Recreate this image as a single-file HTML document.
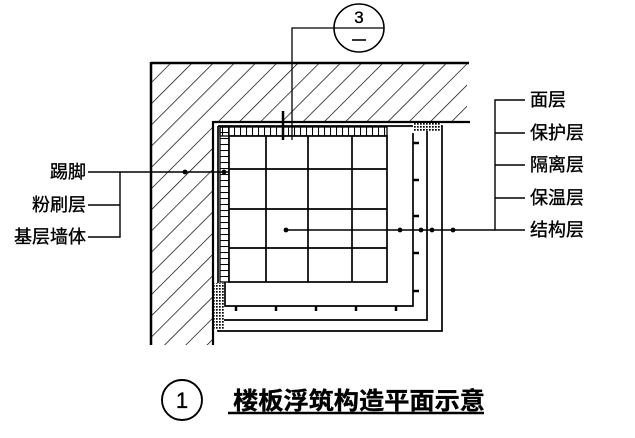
<!DOCTYPE html>
<html><head><meta charset="utf-8"><style>
html,body{margin:0;padding:0;background:#fff;}
svg{display:block;}
text{font-family:"Liberation Sans","Noto Sans CJK SC",sans-serif;fill:#000;stroke:#000;stroke-width:0.35;}
</style></head><body>
<svg width="635" height="438" viewBox="0 0 635 438" xmlns="http://www.w3.org/2000/svg">
<defs>
<pattern id="h" patternUnits="userSpaceOnUse" width="15" height="15" patternTransform="rotate(45)">
<line x1="0" y1="0" x2="0" y2="15" stroke="#000" stroke-width="1.4"/>
</pattern>
<pattern id="d" patternUnits="userSpaceOnUse" width="3" height="3">
<rect width="3" height="3" fill="#fff"/><rect width="1.7" height="1.7" fill="#000"/>
</pattern>
<pattern id="v" patternUnits="userSpaceOnUse" width="6" height="10" x="0">
<line x1="0.5" y1="0" x2="0.5" y2="10" stroke="#000" stroke-width="1.1"/>
</pattern>
<pattern id="hz" patternUnits="userSpaceOnUse" width="10" height="6">
<line x1="0" y1="0.5" x2="10" y2="0.5" stroke="#000" stroke-width="1.1"/>
</pattern>
</defs>
<!-- wall -->
<polygon points="151,63 467,63 467,122 213,122 213,345 151,345" fill="url(#h)"/>
<line x1="151" y1="63" x2="469" y2="63" stroke="#000" stroke-width="2.5"/>
<line x1="151" y1="62" x2="151" y2="345" stroke="#000" stroke-width="2.5"/>
<line x1="213" y1="122" x2="470" y2="122" stroke="#000" stroke-width="2.2"/>
<line x1="213" y1="121" x2="213" y2="345" stroke="#000" stroke-width="2.2"/>
<!-- outer box -->
<polyline points="218,126 442,126 442,331 218,331 218,126" fill="none" stroke="#000" stroke-width="1.7"/>
<!-- dotted pieces -->
<rect x="413" y="123" width="28" height="8" fill="url(#d)"/>
<rect x="387" y="127" width="26" height="4" fill="url(#hz)"/>
<rect x="214" y="283" width="10" height="47" fill="url(#d)"/>
<!-- skirting -->
<rect x="220" y="127" width="167" height="9" fill="url(#v)" stroke="#000" stroke-width="1.3"/>
<rect x="220" y="127" width="9" height="155" fill="url(#hz)" stroke="#000" stroke-width="1.3"/>
<!-- tiles -->
<rect x="229" y="136" width="158" height="146" fill="#fff" stroke="#000" stroke-width="1.7"/>
<g stroke="#000" stroke-width="1.7">
<line x1="266" y1="136" x2="266" y2="282"/><line x1="308" y1="136" x2="308" y2="282"/><line x1="352" y1="136" x2="352" y2="282"/>
<line x1="229" y1="169" x2="387" y2="169"/><line x1="229" y1="209" x2="387" y2="209"/><line x1="229" y1="248" x2="387" y2="248"/>
</g>
<!-- L layers -->
<g fill="none" stroke="#000" stroke-width="1.7">
<polyline points="225,282 225,306 413,306 413,133"/>
<polyline points="224,320 427,320 427,131"/>
</g>
<g stroke="#000" stroke-width="2.5">
<line x1="413" y1="143" x2="419" y2="143"/><line x1="413" y1="180" x2="419" y2="180"/><line x1="413" y1="216" x2="419" y2="216"/><line x1="413" y1="253" x2="419" y2="253"/><line x1="413" y1="291" x2="419" y2="291"/>
<line x1="236" y1="306" x2="236" y2="311"/><line x1="276" y1="306" x2="276" y2="311"/><line x1="316" y1="306" x2="316" y2="311"/><line x1="356" y1="306" x2="356" y2="311"/><line x1="396" y1="306" x2="396" y2="311"/>
</g>
<!-- section mark -->
<line x1="283" y1="111" x2="283" y2="140" stroke="#000" stroke-width="2.5"/>
<polyline points="292,140 292,28 334,28" fill="none" stroke="#000" stroke-width="1.3"/>
<ellipse cx="359" cy="28" rx="25" ry="24" fill="#fff" stroke="#000" stroke-width="1.6"/>
<line x1="334" y1="28" x2="384" y2="28" stroke="#000" stroke-width="1.3"/>
<text x="359" y="23" font-size="17" text-anchor="middle">3</text>
<line x1="352" y1="40" x2="366" y2="40" stroke="#000" stroke-width="1.6"/>
<!-- leaders -->
<g stroke="#000" stroke-width="1.4" fill="none">
<line x1="88" y1="172" x2="229" y2="172"/>
<polyline points="88,205 120,205"/>
<polyline points="120,172 120,237 88,237"/>
<line x1="286" y1="230" x2="495" y2="230"/>
<polyline points="525,100 495,100 495,230 525,230"/>
<line x1="495" y1="133" x2="525" y2="133"/><line x1="495" y1="165" x2="525" y2="165"/><line x1="495" y1="198" x2="525" y2="198"/>
</g>
<g fill="#000">
<circle cx="185" cy="172" r="2.4"/><circle cx="224" cy="172" r="2.4"/>
<circle cx="286" cy="230" r="2.4"/><circle cx="400" cy="230" r="2.4"/><circle cx="421" cy="230" r="2.4"/><circle cx="432" cy="230" r="2.4"/><circle cx="453" cy="230" r="2.4"/>
</g>
<g font-size="18">
<text x="86" y="178" text-anchor="end">踢脚</text>
<text x="86" y="211" text-anchor="end">粉刷层</text>
<text x="86" y="243" text-anchor="end">基层墙体</text>
<text x="530" y="106">面层</text>
<text x="530" y="139">保护层</text>
<text x="530" y="171">隔离层</text>
<text x="530" y="204">保温层</text>
<text x="530" y="236">结构层</text>
</g>
<!-- title -->
<circle cx="182" cy="400" r="20" fill="none" stroke="#000" stroke-width="1.9"/>
<text x="182" y="408" font-size="22" text-anchor="middle">1</text>
<text x="233" y="409" font-size="24" font-weight="bold" textLength="252" lengthAdjust="spacingAndGlyphs">楼板浮筑构造平面示意</text>
<line x1="228" y1="413" x2="484" y2="413" stroke="#000" stroke-width="2.5"/>
</svg>
</body></html>
